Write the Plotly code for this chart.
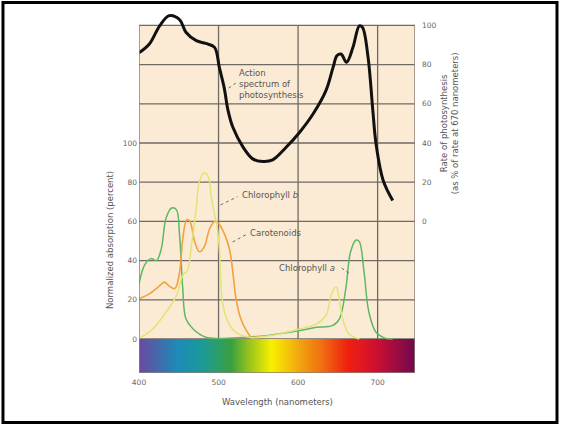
import plotly.graph_objects as go
import numpy as np

# ---------------- data ----------------
# Action spectrum of photosynthesis (right axis, % of rate at 670 nm)
action_nm = [400, 413, 426, 438, 451, 459, 472, 484, 495, 501, 507, 512, 518, 531, 543, 556, 568,
             585, 602, 619, 635, 644, 649, 654, 661, 669, 677, 681, 688, 694, 698, 707, 719]
action_val = [86, 90.5, 99.8, 105, 103, 96.5, 92.2, 90.8, 88.8, 78.6, 68.4, 56.5, 48, 37.8, 31.9, 30.6, 31.4,
              37.8, 45.5, 54.9, 66.7, 78.6, 84.6, 85.4, 81.2, 88.8, 99.8, 99, 83.7, 56.5, 39.6, 20.9, 10.7]

# Chlorophyll a (left axis, normalized absorption %)
chla_nm = [400, 407, 415, 422, 428, 434, 441, 447, 451, 455, 459, 468, 484, 501, 530, 560, 602, 623,
           643, 652, 660, 666, 673, 677, 683, 689, 698, 710, 719]
chla_val = [28, 37.7, 41, 40, 46, 61.6, 66.8, 66, 53, 25.7, 10.3, 5.1, 0.9, 0.3, 0.8, 1.7, 4.3, 6,
            6.8, 10.3, 25.7, 44.5, 50.5, 49.7, 34, 13.7, 3.4, 0.3, 0]

# Chlorophyll b
chlb_nm = [400, 417, 434, 447, 455, 461, 466, 472, 476, 482, 487, 491, 495, 498, 501, 505, 512, 522,
           539, 560, 585, 602, 623, 635, 643, 648, 651, 656, 664, 677]
chlb_val = [0.3, 5, 13.7, 22, 32.5, 35, 48, 66.8, 80.5, 84.8, 83, 72, 63.4, 58.2, 46, 18.8, 8.6, 3.4,
            0.9, 1.4, 3.4, 5.1, 7.7, 12, 24, 26.5, 22.3, 10.3, 2.6, 0]

# Carotenoids
car_nm = [400, 413, 424, 432, 438, 445, 451, 455, 460, 464, 470, 476, 482, 489, 495, 500, 507, 514,
          518, 522, 528, 535, 543, 552]
car_val = [20.5, 23, 26.5, 29, 27, 25.7, 34, 51, 60.8, 60, 49.7, 44.5, 47, 56.5, 60, 59, 54, 45.4,
           34, 20.5, 10.3, 4.3, 0.3, 0]

# visible-spectrum colour stops (nm, colour)
spec_nm = [400, 448, 478, 516, 536, 566, 604, 629, 662, 696, 747]
spec_col = ["#6a4aa0", "#1d8ab8", "#1a9a9a", "#3aa040", "#90c020", "#f8f000",
            "#f0a010", "#f07010", "#f02010", "#d01030", "#700850"]

left_ticks = [0, 20, 40, 60, 80, 100]
right_ticks = [0, 20, 40, 60, 80, 100]
x_ticks = [400, 500, 600, 700]

# ---------------- figure ----------------
XR = [400, 747]
YR = [-17.35, 168.37]
OFF = 60  # right axis offset in left-axis units

fig = go.Figure()

# spectrum bar
edges = np.arange(XR[0], XR[1] + 1, 1.0)
centers = (edges[:-1] + edges[1:]) / 2
cs = [[(n - XR[0]) / (XR[1] - XR[0]), c] for n, c in zip(spec_nm, spec_col)]
fig.add_trace(go.Heatmap(x=edges, y=[YR[0], 0], z=[centers], colorscale=cs,
                         zmin=XR[0], zmax=XR[1], showscale=False, hoverinfo="skip",
                         zsmooth="best"))

fig.add_trace(go.Scatter(x=chla_nm, y=chla_val, mode="lines", line=dict(color="#5cb865", width=1.5, shape="spline"),
                         showlegend=False))
fig.add_trace(go.Scatter(x=car_nm, y=car_val, mode="lines", line=dict(color="#f2a040", width=1.6, shape="spline"),
                         showlegend=False))
fig.add_trace(go.Scatter(x=chlb_nm, y=chlb_val, mode="lines", line=dict(color="#dfe475", width=1.5, shape="spline"),
                         showlegend=False))
fig.add_trace(go.Scatter(x=action_nm, y=action_val, yaxis="y2", mode="lines",
                         line=dict(color="#111111", width=3, shape="spline"), showlegend=False))

grid_col = "#6f6a64"
shapes = [dict(type="rect", xref="x", yref="y", x0=XR[0], x1=XR[1], y0=0, y1=160,
               fillcolor="#fcebd4", line=dict(width=0), layer="below")]
for v in range(0, 161, 20):
    shapes.append(dict(type="line", xref="x", yref="y", x0=XR[0], x1=XR[1], y0=v, y1=v,
                       line=dict(color=grid_col, width=1.3), layer="below"))
for v in [500, 600, 700]:
    shapes.append(dict(type="line", xref="x", yref="y", x0=v, x1=v, y0=0, y1=160,
                       line=dict(color=grid_col, width=1.3), layer="below"))
for xv in [XR[0], XR[1]]:
    shapes.append(dict(type="line", xref="x", yref="y", x0=xv, x1=xv, y0=YR[0], y1=160,
                       line=dict(color="#8a8278", width=1.5), layer="above"))
shapes.append(dict(type="line", xref="x", yref="y", x0=XR[0], x1=XR[1], y0=YR[0], y1=YR[0],
                   line=dict(color="#8a8278", width=1.5), layer="above"))
# leader lines
lead = dict(color="#444444", width=0.8, dash="dot")
shapes += [
    dict(type="line", xref="x", yref="y", x0=512.6, y0=128, x1=521.4, y1=130.5, line=lead),
    dict(type="line", xref="x", yref="y", x0=502.5, y0=68.4, x1=523.9, y1=72.6, line=lead),
    dict(type="line", xref="x", yref="y", x0=517.6, y0=49.5, x1=535.2, y1=53.4, line=lead),
    dict(type="line", xref="x", yref="y", x0=654.7, y0=36.2, x1=663.5, y1=33.7, line=lead),
]
# outer frame
shapes.append(dict(type="rect", xref="paper", yref="paper", x0=-0.4928, x1=1.5145, y0=-0.136, y1=1.018,
                   line=dict(color="#000000", width=3), fillcolor="rgba(0,0,0,0)"))

txt = dict(family="DejaVu Sans, sans-serif", size=8.5, color="#555555")
ann = [
    dict(x=522.6, y=130.3, xref="x", yref="y", text="Action<br>spectrum of<br>photosynthesis",
         showarrow=False, xanchor="left", yanchor="middle", align="left", font=txt),
    dict(x=526.4, y=73.5, xref="x", yref="y", text="Chlorophyll <i>b</i>",
         showarrow=False, xanchor="left", yanchor="middle", font=txt),
    dict(x=536.5, y=54.1, xref="x", yref="y", text="Carotenoids",
         showarrow=False, xanchor="left", yanchor="middle", font=txt),
    dict(x=573, y=36.2, xref="x", yref="y", text="Chlorophyll <i>a</i>",
         showarrow=False, xanchor="left", yanchor="middle", font=txt),
    dict(x=-0.105, y=50.5, xref="paper", yref="y", text="Normalized absorption (percent)",
         showarrow=False, textangle=-90, xanchor="center", yanchor="middle", font=txt),
    dict(x=1.123, y=110, xref="paper", yref="y",
         text="Rate of photosynthesis<br>(as % of rate at 670 nanometers)",
         showarrow=False, textangle=-90, xanchor="center", yanchor="middle", font=txt),
    dict(x=0.5, y=-0.079, xref="paper", yref="paper", text="Wavelength (nanometers)",
         showarrow=False, xanchor="center", yanchor="middle", font=txt),
]

tickfont = dict(family="DejaVu Sans, sans-serif", size=7.5, color="#666666")
fig.update_layout(
    width=561, height=424,
    margin=dict(l=139, r=146, t=9, b=51),
    paper_bgcolor="white", plot_bgcolor="white",
    shapes=shapes, annotations=ann, showlegend=False,
    xaxis=dict(range=XR, tickvals=x_ticks, showgrid=False, zeroline=False, showline=False,
               ticks="", tickfont=tickfont, ticklabelstandoff=3),
    yaxis=dict(range=YR, tickvals=left_ticks, showgrid=False, zeroline=False, showline=False,
               ticks="", tickfont=tickfont, ticklabelstandoff=1),
    yaxis2=dict(range=[YR[0] - OFF, YR[1] - OFF], tickvals=right_ticks, overlaying="y", side="right",
                showgrid=False, zeroline=False, showline=False, ticks="", tickfont=tickfont,
                ticklabelstandoff=6),
)

fig.write_html("out.html")
